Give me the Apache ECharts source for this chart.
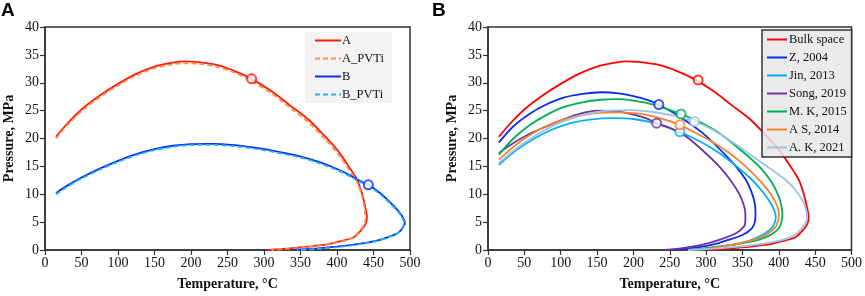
<html>
<head>
<meta charset="utf-8">
<script src="https://cdn.jsdelivr.net/npm/echarts@6/dist/echarts.min.js"></script>
</head>
<body style="margin:0;background:#fff">
<div id="main" style="width:865px;height:296px;"></div>
<script>
// panel A: phase envelopes, temperature (°C) vs pressure (MPa)
var curveA = [[15,20.3],[30,22.6],[50,25.2],[75,27.7],[100,29.8],[125,31.6],[150,32.9],[175,33.6],[190,33.85],[210,33.7],[235,33.2],[260,32.1],[283,30.7],[310,28.5],[336,25.9],[360,23.5],[382,20.6],[400,18.0],[415,15.2],[427,12.7],[434,10.2],[439,7.5],[441,5.8],[439,4.6],[432,3.4],[423,2.3],[405,1.6],[386,1.0],[360,0.6],[335,0.3],[305,0.0]];
var curveAPVTi = [[15,20.0],[30,22.3],[50,24.9],[75,27.4],[100,29.5],[125,31.3],[150,32.6],[175,33.3],[190,33.5],[210,33.4],[235,32.9],[260,31.8],[283,30.3],[310,28.1],[336,25.5],[360,23.0],[382,20.1],[400,17.5],[415,14.7],[427,12.3],[434,9.8],[438,7.3],[439,5.6],[437,4.5],[430,3.3],[421,2.2],[405,1.5],[386,0.95],[360,0.55],[335,0.25],[310,0.0]];
var curveB = [[15,10.2],[30,11.5],[50,13.0],[75,14.6],[100,16.0],[125,17.2],[150,18.1],[175,18.7],[200,19.0],[228,19.05],[260,18.8],[290,18.3],[320,17.6],[349,16.8],[375,15.8],[395,14.8],[412,13.8],[427,12.7],[443,11.7],[458,10.3],[470,8.9],[480,7.6],[488,6.3],[493,4.9],[490,4.0],[484,3.1],[472,2.4],[455,1.7],[430,1.1],[400,0.6],[372,0.3],[340,0.0]];
var curveBPVTi = [[15,10.0],[30,11.3],[50,12.8],[75,14.4],[100,15.8],[125,17.0],[150,17.9],[175,18.5],[200,18.8],[228,18.85],[260,18.6],[290,18.1],[320,17.4],[349,16.6],[375,15.6],[395,14.6],[412,13.6],[427,12.5],[443,11.5],[458,10.1],[470,8.7],[480,7.4],[488,6.1],[492,4.8],[489,3.9],[483,3.0],[471,2.3],[454,1.6],[430,1.0],[400,0.5],[372,0.2],[345,0.0]];
var critA = [283, 30.7];
var critB = [443, 11.7];

// panel B: bulk vs confined (literature models)
var bulk = curveA;
var z2004 = [[15,19.3],[35,22.2],[58,24.5],[80,26.1],[103,27.3],[130,28.0],[156,28.3],[180,28.1],[200,27.6],[220,26.9],[235,26.1],[255,24.6],[275,22.9],[295,21.0],[318,18.2],[341,15.0],[355,12.5],[363,10.2],[367,8.3],[368,6.6],[367,5.0],[363,3.9],[350,2.7],[330,1.8],[310,1.0],[290,0.5],[270,0.2],[255,0.0]];
var jin2013 = [[15,15.3],[40,18.0],[65,20.1],[90,21.7],[115,22.8],[140,23.4],[172,23.65],[200,23.5],[230,22.7],[263,21.2],[290,19.6],[318,17.4],[342,15.0],[363,12.6],[378,10.4],[389,8.4],[394,7.0],[396,6.0],[394,4.8],[390,3.9],[380,2.9],[364,1.85],[340,1.0],[310,0.45],[290,0.15],[275,0.0]];
var song2019 = [[15,17.4],[35,19.2],[58,20.9],[81,22.2],[105,23.5],[128,24.5],[151,25.0],[175,24.9],[200,24.3],[218,23.6],[232,22.75],[252,21.8],[272,20.4],[295,17.9],[318,15.0],[333,12.6],[345,10.2],[351,8.4],[354,6.6],[354,5.2],[352,4.2],[341,3.0],[320,1.9],[295,0.95],[270,0.4],[243,0.0]];
var mk2015 = [[15,17.1],[35,20.0],[58,22.45],[80,24.2],[103,25.6],[130,26.5],[155,26.95],[177,27.05],[200,26.8],[230,26.0],[265,24.4],[292,22.9],[318,21.0],[345,18.2],[373,15.0],[390,12.2],[400,9.6],[404,7.6],[405,6.0],[403,4.8],[400,3.9],[390,2.8],[373,1.85],[345,1.1],[318,0.65],[295,0.25],[275,0.0]];
var as2014 = [[15,16.2],[40,19.0],[65,21.2],[90,22.8],[115,23.8],[145,24.5],[181,24.7],[210,24.4],[240,23.5],[263,22.45],[290,20.7],[310,19.3],[332,17.4],[355,14.9],[377,12.0],[390,9.8],[398,7.8],[400,6.6],[400,5.7],[398,4.9],[396,4.2],[388,3.2],[373,2.15],[350,1.3],[320,0.6],[300,0.2],[285,0.0]];
var ak2021 = [[15,15.6],[40,18.3],[65,20.5],[90,22.3],[115,23.6],[140,24.5],[165,25.0],[195,25.1],[225,24.8],[255,24.1],[284,23.05],[310,21.5],[337,19.3],[364,16.8],[388,14.6],[409,12.6],[422,10.9],[432,9.0],[437,7.5],[439,6.0],[438,5.2],[435,4.5],[428,3.4],[418,2.4],[395,1.5],[360,0.8],[320,0.35],[290,0.1],[275,0.0]];
var critPointsB = [[289,30.5],[235,26.1],[264,21.2],[232,22.75],[265.5,24.4],[264,22.45],[284,23.05]];

var namesA = ['A', 'A_PVTi', 'B', 'B_PVTi'];
var namesB = ['Bulk space', 'Z, 2004', 'Jin, 2013', 'Song, 2019', 'M. K, 2015', 'A S, 2014', 'A. K, 2021'];
var colorsB = ['#ff0000', '#0a2cf0', '#00b0f0', '#7030a0', '#00b050', '#f58231', '#9dc3e6'];

var serif = 'Liberation Serif';
var chart = echarts.init(document.getElementById('main'));

function xAxisCfg(idx) {
    return {
        gridIndex: idx, type: 'value', min: 0, max: 500, interval: 50,
        name: 'Temperature, °C', nameLocation: 'middle', nameGap: 27,
        nameTextStyle: { fontFamily: serif, fontWeight: 'bold', fontSize: 14, color: '#111' },
        axisLine: { lineStyle: { color: '#333', width: 1.5 } },
        axisTick: { inside: false, length: 5, lineStyle: { color: '#333', width: 1.2 } },
        axisLabel: { fontFamily: serif, fontSize: 14, color: '#111', margin: 6 },
        splitLine: { show: false }
    };
}
function yAxisCfg(idx) {
    return {
        gridIndex: idx, type: 'value', min: 0, max: 40, interval: 5,
        name: 'Pressure, MPa', nameLocation: 'middle', nameGap: 29,
        nameTextStyle: { fontFamily: serif, fontWeight: 'bold', fontSize: 14, color: '#111' },
        axisLine: { lineStyle: { color: '#333', width: 1.5 } },
        axisTick: { inside: false, length: 5, lineStyle: { color: '#333', width: 1.2 } },
        axisLabel: { fontFamily: serif, fontSize: 14, color: '#111', margin: 6 },
        splitLine: { show: false }
    };
}
function line(name, data, color, idx, dashed) {
    return {
        name: name, type: 'line', data: data, xAxisIndex: idx, yAxisIndex: idx,
        symbol: 'none', smooth: 0.3, color: color,
        lineStyle: { color: color, width: 1.8, type: dashed ? [5, 3] : 'solid' }
    };
}
function crit(pt, color, idx) {
    return {
        type: 'scatter', data: [pt], xAxisIndex: idx, yAxisIndex: idx, z: 5,
        symbol: 'circle', symbolSize: 9,
        itemStyle: { color: '#fff', borderColor: color, borderWidth: 2 }
    };
}

var series = [
    line('A', curveA, '#ff1a0a', 0, false),
    line('A_PVTi', curveAPVTi, '#f4914a', 0, true),
    line('B', curveB, '#0a2cf0', 0, false),
    line('B_PVTi', curveBPVTi, '#25b8ee', 0, true),
    crit(critA, '#ff1a0a', 0),
    crit(critB, '#0a2cf0', 0)
];
var dataB = [bulk, z2004, jin2013, song2019, mk2015, as2014, ak2021];
for (var i = 0; i < namesB.length; i++) {
    series.push(line(namesB[i], dataB[i], colorsB[i], 1, false));
}
for (var j = 0; j < critPointsB.length; j++) {
    series.push(crit(critPointsB[j], colorsB[j], 1));
}

chart.setOption({
    animation: false,
    title: [
        { text: 'A', left: 1, top: 1, padding: 0, textStyle: { fontFamily: 'Liberation Sans', fontWeight: 'bold', fontSize: 19, color: '#000' } },
        { text: 'B', left: 432, top: 1, padding: 0, textStyle: { fontFamily: 'Liberation Sans', fontWeight: 'bold', fontSize: 19, color: '#000' } }
    ],
    grid: [
        { left: 45, right: 455, top: 27, bottom: 45, show: true, borderColor: '#333', borderWidth: 1.5 },
        { left: 488, right: 12, top: 27, bottom: 46, show: true, borderColor: '#333', borderWidth: 1.5 }
    ],
    legend: [
        {
            data: namesA, orient: 'vertical', left: 305, top: 32,
            backgroundColor: '#f3f3f3', padding: [2, 8, 2, 9],
            itemWidth: 26, itemHeight: 14, itemGap: 5,
            itemStyle: { opacity: 0 },
            textStyle: { fontFamily: serif, fontSize: 12.5, color: '#111', padding: [0, 0, 0, -4] }
        },
        {
            data: namesB, orient: 'vertical', left: 762, top: 30,
            backgroundColor: 'rgba(232,232,232,0.85)', borderColor: '#333', borderWidth: 1.5,
            padding: [3, 5, 3, 4],
            itemWidth: 20, itemHeight: 14, itemGap: 5,
            itemStyle: { opacity: 0 },
            textStyle: { fontFamily: serif, fontSize: 12.5, color: '#111', padding: [0, 0, 0, -3] }
        }
    ],
    xAxis: [xAxisCfg(0), xAxisCfg(1)],
    yAxis: [yAxisCfg(0), yAxisCfg(1)],
    series: series
});
</script>
</body>
</html>
